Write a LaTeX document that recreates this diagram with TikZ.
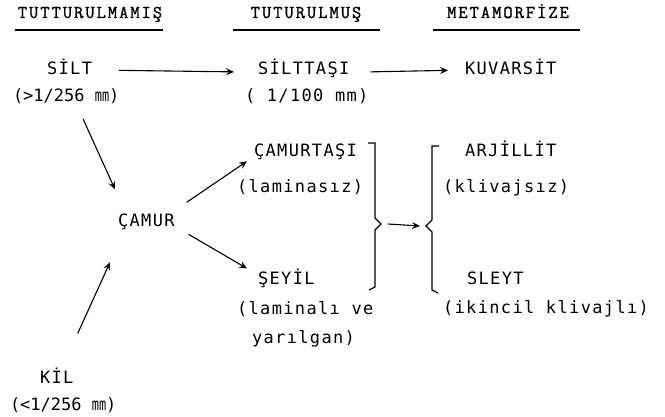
\documentclass[tikz,border=0pt]{standalone}
\usepackage{fontspec}
\usepackage{graphicx}
\newfontfamily\bodyfont[LetterSpace=8]{DejaVu Sans Mono}
\newfontfamily\narrowfont{DejaVu Sans Mono}
\newfontfamily\headfont[LetterSpace=11,FakeBold=1.2]{Latin Modern Mono}
\newcommand{\mmunit}{\scalebox{0.7}[1]{mm}}
\usetikzlibrary{arrows.meta}
\begin{document}
\begin{tikzpicture}[x=1pt,y=-1pt,
  txt/.style={inner sep=0pt, outer sep=0pt, font=\bodyfont\fontsize{17}{20}\selectfont, anchor=base west},
  ntxt/.style={inner sep=0pt, outer sep=0pt, font=\narrowfont\fontsize{17}{20}\selectfont, anchor=base west},
  head/.style={inner sep=0pt, outer sep=0pt, font=\headfont\fontsize{18}{22}\selectfont, anchor=base},
  uline/.style={line width=1.6pt},
  arr/.style={line width=1.1pt, -{Stealth[length=8pt,width=7pt,inset=3pt]}},
  brace/.style={line width=1.3pt, line join=miter}]
\useasboundingbox[fill=white] (0,0) rectangle (665,417);
% headers
\node[head] (h1) at (90,18) {TUTTURULMAMIŞ};
\node[head] (h2) at (306,18) {TUTURULMUŞ};
\node[head] (h3) at (508,18) {METAMORFİZE};
\draw[uline] (15,30) -- (163,30);
\draw[uline] (233,30) -- (380,30);
\draw[uline] (433,30) -- (580,30);
% row 1
\node[txt] (silt) at (47,75) {SİLT};
\node[ntxt] (siltp) at (13,102) {(>1/256 \mmunit)};
\node[txt] (silttasi) at (258,75) {SİLTTAŞI};
\node[txt] (silttasip) at (245,102) {( 1/100 mm)};
\node[txt] (kuvarsit) at (465,75) {KUVARSİT};
% middle
\node[txt] (camur) at (118,227) {ÇAMUR};
\node[txt] (camurtasi) at (254,157) {ÇAMURTAŞI};
\node[txt] (lamsiz) at (237,193) {(laminasız)};
\node[txt] (seyil) at (258,285) {ŞEYİL};
\node[txt] (lamli) at (237,315) {(laminalı ve};
\node[txt] (yarilgan) at (252,343) {yarılgan)};
\node[txt] (arjillit) at (465,157) {ARJİLLİT};
\node[txt] (klivsiz) at (443,193) {(klivajsız)};
\node[txt] (sleyt) at (467,284) {SLEYT};
\node[txt] (klivli) at (443,313) {(ikincil klivajlı)};
\node[txt] (kil) at (40,383) {KİL};
\node[ntxt] (kilp) at (10,410) {(<1/256 \mmunit)};
% braces
\draw[brace] (368,143) -- (375,143) -- (375,218) -- (381,224) -- (375,230) -- (375,287) -- (369,290);
\coordinate (rb) at (381,224);
\draw[brace] (439,146) -- (432,146) -- (432,220) -- (426,226) -- (432,232) -- (432,290) -- (438,293);
\coordinate (lb) at (426,226);
% arrows
\draw[arr] ([xshift=27pt,yshift=-3pt]silt.east) -- ([xshift=-24pt,yshift=-3pt]silttasi.west);
\draw[arr] ([xshift=21pt,yshift=-3pt]silttasi.east) -- ([xshift=-17pt,yshift=-3pt]kuvarsit.west);
\draw[arr] ([shift={(17,15)}]siltp.south) -- ([shift={(-3,-25)}]camur.north west);
\draw[arr] ([shift={(21,-34)}]kil.north) -- ([shift={(-8,32)}]camur.south west);
\draw[arr] ([shift={(12,-20)}]camur.east) -- ([shift={(-7,1)}]camurtasi.south west);
\draw[arr] ([shift={(14,12)}]camur.east) -- ([shift={(-11,-1)}]seyil.north west);
\draw[arr] ([xshift=7pt]rb) -- ([xshift=-6pt]lb);
\end{tikzpicture}
\end{document}
